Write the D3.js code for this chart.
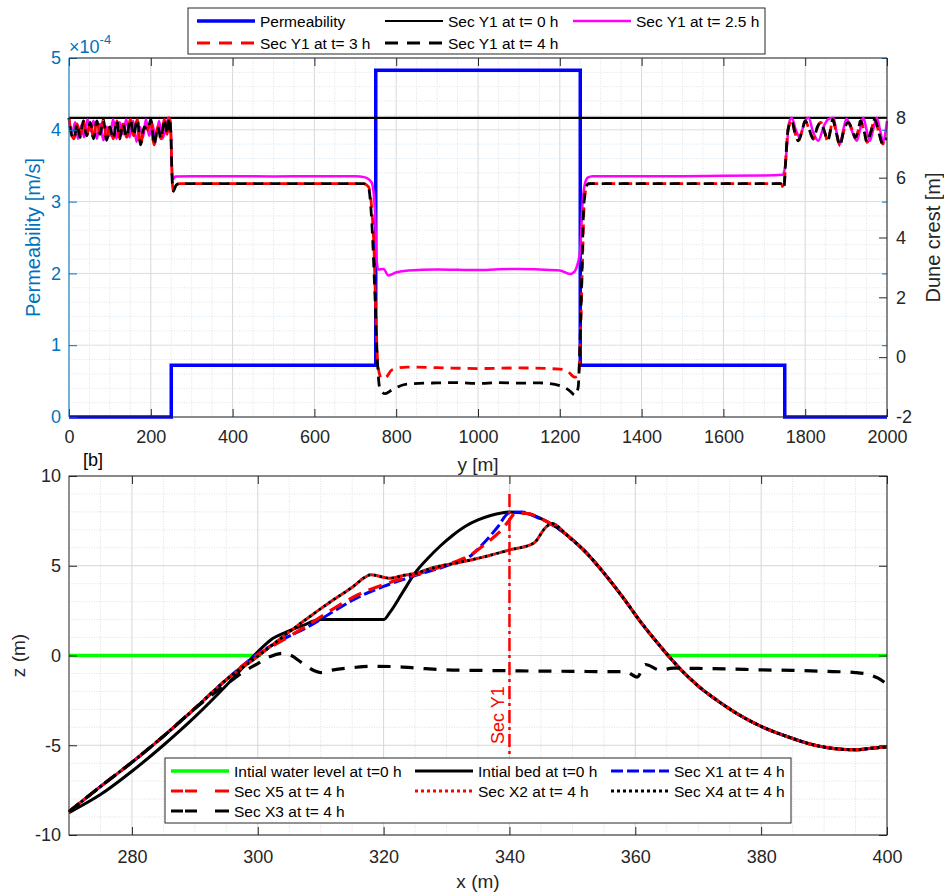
<!DOCTYPE html>
<html>
<head>
<meta charset="utf-8">
<script src="https://cdn.jsdelivr.net/npm/d3@7"></script>
<style>
body { margin: 0; background: #fff; }
svg text { font-family: "Liberation Sans", Arial, Helvetica, sans-serif; }
</style>
</head>
<body>
<div id="chart"></div>
<script>
var svgWidth = 944;
var svgHeight = 893;

// ---------- panel [a]: permeability and dune crest along y ----------
var permY = [0, 250, 250, 750, 750, 1250, 1250, 1750, 1750, 2000];
var permK = [0, 0, 0.72, 0.72, 4.83, 4.83, 0.72, 0.72, 0, 0];   // x 1e-4 m/s

var crestT0 = [[0, 8], [2000, 8]];

var crestT25 = [[0,7.95],[8,7.5],[15,7.85],[22,7.3],[30,7.75],[37,7.35],[45,7.95],[53,7.55],[60,7.9],[68,7.3],
  [76,7.8],[84,7.25],[92,7.7],[100,7.4],[108,7.95],[116,7.3],[124,7.85],[132,7.45],[140,7.95],[148,7.35],
  [157,7.9],[165,7.2],[173,7.7],[181,7.35],[188,7.95],[196,7.4],[204,7.8],[212,7.25],[220,7.9],[228,7.3],
  [236,7.6],[243,8.0],[248,7.9],[251,6.5],[254,5.95],[260,6.04],[300,6.05],[400,6.05],[500,6.04],[600,6.05],
  [700,6.05],[724,6.01],[740,5.84],[748,4.9],[752,3.3],[756,2.93],[769,2.95],[781,2.73],[801,2.84],[830,2.9],
  [900,2.93],[950,2.92],[1000,2.91],[1050,2.94],[1100,2.95],[1150,2.93],[1200,2.9],[1225,2.78],[1236,2.86],
  [1241,3.0],[1250,3.6],[1255,5.0],[1260,5.7],[1268,6.0],[1280,6.05],[1400,6.05],[1500,6.05],[1600,6.06],
  [1700,6.07],[1745,6.1],[1750,6.3],[1755,7.0],[1760,7.8],[1767,8.0],[1777,7.6],[1787,7.34],[1797,7.8],
  [1808,8.0],[1820,7.5],[1832,7.23],[1845,7.7],[1856,7.95],[1869,8.0],[1877,7.5],[1885,7.12],[1893,7.6],
  [1901,7.97],[1913,7.6],[1926,7.23],[1934,7.6],[1942,8.0],[1950,7.6],[1958,7.23],[1966,7.6],[1975,8.0],
  [1983,7.6],[1991,7.18],[1996,7.5],[2000,7.9]];

// t = 3 h and t = 4 h coincide outside the central reach
var crestOscLeft = [[0,8.0],[5,7.5],[12,7.3],[20,7.8],[27,7.35],[35,7.9],[43,7.4],[52,7.85],[60,7.3],[68,7.9],
  [76,7.45],[84,7.95],[92,7.25],[100,7.7],[108,7.3],[117,7.9],[124,7.3],[132,7.8],[141,7.35],[150,7.95],
  [158,7.4],[167,7.95],[175,7.1],[184,7.7],[193,7.6],[200,7.95],[208,7.1],[217,7.7],[225,7.3],[233,7.95],
  [240,7.45],[245,8.0],[249,7.5],[252,6.0],[255,5.55],[262,5.75],[270,5.8],[400,5.8],[600,5.8],[720,5.8]];
var crestOscRight = [[1400,5.8],[1600,5.8],[1740,5.8],[1748,5.65],[1752,6.5],[1758,7.6],[1767,7.9],[1775,7.5],
  [1783,7.23],[1793,7.6],[1800,7.9],[1810,7.6],[1820,7.29],[1830,7.7],[1838,7.85],[1848,7.5],[1855,7.23],
  [1862,7.6],[1867,7.95],[1876,7.5],[1885,7.07],[1893,7.5],[1905,7.85],[1915,7.6],[1922,7.34],[1930,7.6],
  [1935,7.9],[1945,7.5],[1951,7.18],[1960,7.5],[1970,7.95],[1980,7.5],[1990,7.12],[1995,7.3],[2000,7.3]];
var crestT3Mid = [[732,5.7],[740,5.0],[746,3.5],[750,1.5],[754,0.0],[758,-0.5],[765,-0.72],[777,-0.65],
  [789,-0.43],[826,-0.33],[900,-0.35],[1000,-0.38],[1100,-0.36],[1200,-0.4],[1217,-0.45],[1237,-0.67],
  [1246,-0.6],[1250,0.5],[1255,3.0],[1260,5.2],[1266,5.72],[1275,5.8]];
var crestT4Mid = [[732,5.68],[740,4.6],[748,2.1],[754,-0.1],[760,-1.05],[773,-1.22],[789,-1.1],[826,-0.9],
  [900,-0.86],[950,-0.85],[1000,-0.88],[1050,-0.85],[1100,-0.87],[1150,-0.86],[1200,-0.95],[1222,-1.1],
  [1238,-1.27],[1245,-1.0],[1249,0.3],[1254,2.8],[1258,4.9],[1263,5.6],[1270,5.8]];
var crestT3 = crestOscLeft.concat(crestT3Mid, crestOscRight);
var crestT4 = crestOscLeft.concat(crestT4Mid, crestOscRight);

var crestTicks = [-2, 0, 2, 4, 6, 8];

// ---------- panel [b]: cross-shore profiles ----------
var waterX = [270, 300.5, 330, 365, 400];
var waterZ = [0, 0, NaN, 0, 0];

var bedTail = [[346,7.45],[349,6.75],[352,5.8],[355,4.6],[358,3.25],[361,1.8],[364,0.5],[367,-0.7],[370,-1.7],
  [373,-2.5],[376,-3.2],[380,-3.95],[384,-4.5],[388,-4.95],[392,-5.2],[395,-5.25],[398,-5.15],[400,-5.1]];
var bedInit = [[270,-8.75],[275,-7.75],[280,-6.45],[285,-5.0],[290,-3.42],[295,-1.67],[300,0.2],[302,0.85],
  [304.5,1.3],[307,1.65],[310,2.0],[320,2.0],[321,2.4],[323,3.5],[325,4.6],[327,5.4],[329,6.1],[331,6.7],
  [333,7.2],[335,7.55],[337,7.8],[340,8.0],[343,7.9]].concat(bedTail);

var sectLow = [[270,-8.7],[275,-7.3],[280,-5.95],[285,-4.5],[290,-2.95],[295,-1.35]];
var secX1 = sectLow.concat([[300,0.1],[304,0.9],[308,1.6],[312,2.45],[316,3.25],[320,3.85],[325,4.45],
  [330,5.0],[334,5.6],[336,6.3],[338,7.1],[340,7.95],[342,8.0],[344,7.75]], bedTail);
var secX5 = sectLow.concat([[300,0.05],[304,0.85],[308,1.7],[312,2.6],[316,3.4],[320,3.95],[325,4.5],
  [330,5.05],[334,5.65],[336.5,6.3],[339,7.1],[340,7.55],[341,7.95],[343,7.9]], bedTail);
var secX2 = sectLow.concat([[300,-0.05],[304,1.05],[308,2.1],[312,3.1],[315,3.8],[317,4.35],[318,4.5],
  [319.5,4.4],[321,4.3],[323,4.45],[325.3,4.6],[327.4,4.85],[332.7,5.23],[336,5.5],[340,5.88],[343.8,6.25],
  [345.9,7.18],[346.8,7.35],[348,7.1]], bedTail.filter(d => d[0] > 348));
var secX4 = secX2;
var secX3 = [[270,-8.7],[275,-7.3],[280,-5.95],[285,-4.5],[290,-2.95],[295,-1.6],[298,-0.85],[300,-0.45],
  [302,-0.05],[304,0.12],[305,0.05],[307,-0.4],[309,-0.85],[310,-0.95],[312,-0.8],[315,-0.68],[318,-0.6],
  [322,-0.62],[326,-0.72],[330,-0.8],[335,-0.83],[340,-0.85],[345,-0.87],[350,-0.88],[355,-0.9],[358.5,-0.9],
  [360.3,-1.2],[361.6,-0.5],[364,-0.82],[366,-0.7],[370,-0.72],[375,-0.75],[380,-0.8],[385,-0.83],
  [390,-0.88],[395,-0.95],[397,-1.05],[398.5,-1.25],[400,-1.6]];
var secY1X = 340;
var secY1Z = [9, -9];

var axisGrey = "#262626";
var axisBlue = "#0072BD";

var svg = d3.select("#chart")
  .append("svg")
    .attr("width", svgWidth)
    .attr("height", svgHeight)
    .style("display", "block");
svg.append("rect").attr("width", svgWidth).attr("height", svgHeight).attr("fill", "#fff");

// ===== top panel =====
var boxA = {left: 69, right: 887, top: 58, bottom: 417};
var x = d3.scaleLinear().domain([0, 2000]).range([boxA.left, boxA.right]);
var yL = d3.scaleLinear().domain([0, 5]).range([boxA.bottom, boxA.top]);
var yR = d3.scaleLinear().domain([-2, 10]).range([boxA.bottom, boxA.top]);

var gTop = svg.append("g");
var gridT = gTop.append("g");
x.ticks(40).forEach(v => {
  var major = v % 200 === 0;
  gridT.append("line").attr("x1", x(v)).attr("x2", x(v)).attr("y1", boxA.top).attr("y2", boxA.bottom)
    .attr("stroke", major ? "#d8d8d8" : "#e2e2e2").attr("stroke-width", 1)
    .attr("stroke-dasharray", major ? null : "1,1.5");
});
yL.ticks(25).forEach(v => {
  var major = Math.abs(v - Math.round(v)) < 1e-6;
  gridT.append("line").attr("x1", boxA.left).attr("x2", boxA.right).attr("y1", yL(v)).attr("y2", yL(v))
    .attr("stroke", major ? "#cfe0ee" : "#d7e6f2").attr("stroke-width", 1)
    .attr("stroke-dasharray", major ? null : "1,1.5");
});

var permLine = d3.line().x((d, i) => x(permY[i])).y(d => yL(d));
gTop.append("path").datum(permK).attr("d", permLine)
  .attr("fill", "none").attr("stroke", "#0000ff").attr("stroke-width", 3.5);

var crestLine = d3.line().x(d => x(d[0])).y(d => yR(d[1])).curve(d3.curveMonotoneX);
gTop.append("path").datum(crestT0).attr("d", crestLine)
  .attr("fill", "none").attr("stroke", "#000").attr("stroke-width", 2.2);
gTop.append("path").datum(crestT25).attr("d", crestLine)
  .attr("fill", "none").attr("stroke", "#ff00ff").attr("stroke-width", 2.5);
gTop.append("path").datum(crestT3).attr("d", crestLine)
  .attr("fill", "none").attr("stroke", "#ff0000").attr("stroke-width", 2.8)
  .attr("stroke-dasharray", "10,7");
gTop.append("path").datum(crestT4).attr("d", crestLine)
  .attr("fill", "none").attr("stroke", "#000").attr("stroke-width", 2.8)
  .attr("stroke-dasharray", "10,7").attr("stroke-dashoffset", 8.5);

function styleAxis(g, color, size) {
  g.select(".domain").remove();
  g.selectAll(".tick line").attr("stroke", color);
  g.selectAll(".tick text").attr("fill", color).attr("font-size", size)
    .attr("font-family", "'Liberation Sans', Arial, sans-serif");
}

gTop.append("g").attr("transform", `translate(0,${boxA.bottom})`)
  .call(d3.axisBottom(x).ticks(10).tickSize(-8).tickPadding(13).tickFormat(d3.format("d")))
  .call(g => styleAxis(g, axisGrey, 18));
gTop.append("g").attr("transform", `translate(0,${boxA.top})`)
  .call(d3.axisTop(x).ticks(10).tickSize(-8).tickFormat(""))
  .call(g => styleAxis(g, axisGrey, 18));
gTop.append("g").attr("transform", `translate(${boxA.left},0)`)
  .call(d3.axisLeft(yL).ticks(5).tickSize(-8).tickPadding(8).tickFormat(d => String(d)))
  .call(g => styleAxis(g, axisBlue, 18));
gTop.append("g").attr("transform", `translate(${boxA.right},0)`)
  .call(d3.axisRight(yL).ticks(5).tickSize(-5).tickFormat(""))
  .call(g => styleAxis(g, axisBlue, 18));
gTop.append("g").attr("transform", `translate(${boxA.right},0)`)
  .call(d3.axisRight(yR).tickValues(crestTicks).tickSize(-8).tickPadding(9).tickFormat(d => String(d)))
  .call(g => styleAxis(g, axisGrey, 18));

gTop.append("line").attr("x1", boxA.left).attr("x2", boxA.right).attr("y1", boxA.top).attr("y2", boxA.top)
  .attr("stroke", axisGrey);
gTop.append("line").attr("x1", boxA.left).attr("x2", boxA.right).attr("y1", boxA.bottom).attr("y2", boxA.bottom)
  .attr("stroke", axisGrey);
gTop.append("line").attr("x1", boxA.left).attr("x2", boxA.left).attr("y1", boxA.top).attr("y2", boxA.bottom)
  .attr("stroke", axisBlue);
gTop.append("line").attr("x1", boxA.right).attr("x2", boxA.right).attr("y1", boxA.top).attr("y2", boxA.bottom)
  .attr("stroke", axisGrey);

var expo = gTop.append("text").attr("x", 69).attr("y", 53).attr("fill", axisBlue).attr("font-size", 18);
expo.append("tspan").text("\u00d710");
expo.append("tspan").attr("dy", -9).attr("font-size", 13).text("-4");

gTop.append("text")
  .attr("transform", `translate(40,${(boxA.top + boxA.bottom) / 2}) rotate(-90)`)
  .attr("text-anchor", "middle").attr("fill", axisBlue).attr("font-size", 20)
  .text("Permeability [m/s]");
gTop.append("text")
  .attr("transform", `translate(940,${(boxA.top + boxA.bottom) / 2}) rotate(-90)`)
  .attr("text-anchor", "middle").attr("fill", axisGrey).attr("font-size", 20)
  .text("Dune crest [m]");
gTop.append("text").attr("x", (boxA.left + boxA.right) / 2).attr("y", 471)
  .attr("text-anchor", "middle").attr("fill", axisGrey).attr("font-size", 19).text("y [m]");

// legend top
var legTop = gTop.append("g");
legTop.append("rect").attr("x", 188).attr("y", 8).attr("width", 577).attr("height", 46)
  .attr("fill", "#fff").attr("stroke", axisGrey).attr("stroke-width", 1);
var legTopItems = [
  {label: "Permeability", color: "#0000ff", w: 3.5, dash: null, cx: 197, cy: 21},
  {label: "Sec Y1 at t= 0 h", color: "#000", w: 2.2, dash: null, cx: 385, cy: 21},
  {label: "Sec Y1 at t= 2.5 h", color: "#ff00ff", w: 2.5, dash: null, cx: 573, cy: 21},
  {label: "Sec Y1 at t= 3 h", color: "#ff0000", w: 2.8, dash: "13,9", cx: 197, cy: 43},
  {label: "Sec Y1 at t= 4 h", color: "#000", w: 2.8, dash: "13,9", cx: 385, cy: 43}
];
legTopItems.forEach(it => {
  legTop.append("line").attr("x1", it.cx).attr("x2", it.cx + 58).attr("y1", it.cy).attr("y2", it.cy)
    .attr("stroke", it.color).attr("stroke-width", it.w).attr("stroke-dasharray", it.dash);
  legTop.append("text").attr("x", it.cx + 63).attr("y", it.cy).attr("dy", "0.36em")
    .attr("font-size", 15.5).attr("fill", "#000").text(it.label);
});

// ===== bottom panel =====
var boxB = {left: 69, right: 887, top: 476, bottom: 835};
var bx = d3.scaleLinear().domain([270, 400]).range([boxB.left, boxB.right]);
var bz = d3.scaleLinear().domain([-10, 10]).range([boxB.bottom, boxB.top]);

var gBot = svg.append("g");
var gridB = gBot.append("g");
bx.ticks(26).forEach(v => {
  var major = v % 20 === 0;
  gridB.append("line").attr("x1", bx(v)).attr("x2", bx(v)).attr("y1", boxB.top).attr("y2", boxB.bottom)
    .attr("stroke", major ? "#d6d6d6" : "#e0e0e0").attr("stroke-dasharray", major ? null : "1,1.5");
});
bz.ticks(20).forEach(v => {
  var major = v % 5 === 0;
  gridB.append("line").attr("x1", boxB.left).attr("x2", boxB.right).attr("y1", bz(v)).attr("y2", bz(v))
    .attr("stroke", major ? "#d6d6d6" : "#e0e0e0").attr("stroke-dasharray", major ? null : "1,1.5");
});

var waterLine = d3.line().defined(d => !isNaN(d)).x((d, i) => bx(waterX[i])).y(d => bz(d));
var profLine = d3.line().x(d => bx(d[0])).y(d => bz(d[1])).curve(d3.curveMonotoneX);

var profiles = [
  {data: secX1, color: "#0000ff", w: 3, dash: "12,4", off: 0},
  {data: secX5, color: "#ff0000", w: 3.2, dash: "14,8", off: 0},
  {data: secX2, color: "#ff0000", w: 3, dash: "3,3", off: 0},
  {data: secX4, color: "#000", w: 3, dash: "3,3", off: 3},
  {data: secX3, color: "#000", w: 3.2, dash: "13,10", off: 0}
];

gBot.append("path").datum(waterZ).attr("d", waterLine)
  .attr("fill", "none").attr("stroke", "#00ff00").attr("stroke-width", 3.5);
gBot.append("path").datum(bedInit).attr("d", profLine)
  .attr("fill", "none").attr("stroke", "#000").attr("stroke-width", 3);
profiles.forEach(p => {
  gBot.append("path").datum(p.data).attr("d", profLine)
    .attr("fill", "none").attr("stroke", p.color).attr("stroke-width", p.w)
    .attr("stroke-dasharray", p.dash).attr("stroke-dashoffset", p.off);
});

gBot.append("line").attr("x1", bx(secY1X)).attr("x2", bx(secY1X))
  .attr("y1", bz(secY1Z[0])).attr("y2", bz(secY1Z[1]))
  .attr("stroke", "#ff0000").attr("stroke-width", 2.5).attr("stroke-dasharray", "13,4,3,4");
gBot.append("text")
  .attr("transform", `translate(${bx(secY1X) - 5},744) rotate(-90)`)
  .attr("fill", "#ff0000").attr("font-size", 18).text("Sec Y1");

gBot.append("g").attr("transform", `translate(0,${boxB.bottom})`)
  .call(d3.axisBottom(bx).ticks(7).tickSize(-8).tickPadding(15).tickFormat(d3.format("d")))
  .call(g => styleAxis(g, axisGrey, 18));
gBot.append("g").attr("transform", `translate(0,${boxB.top})`)
  .call(d3.axisTop(bx).ticks(7).tickSize(-8).tickFormat(""))
  .call(g => styleAxis(g, axisGrey, 18));
gBot.append("g").attr("transform", `translate(${boxB.left},0)`)
  .call(d3.axisLeft(bz).ticks(4).tickSize(-8).tickPadding(8).tickFormat(d => String(d)))
  .call(g => styleAxis(g, axisGrey, 18));
gBot.append("g").attr("transform", `translate(${boxB.right},0)`)
  .call(d3.axisRight(bz).ticks(4).tickSize(-8).tickFormat(""))
  .call(g => styleAxis(g, axisGrey, 18));
gBot.append("rect").attr("x", boxB.left).attr("y", boxB.top)
  .attr("width", boxB.right - boxB.left).attr("height", boxB.bottom - boxB.top)
  .attr("fill", "none").attr("stroke", axisGrey).attr("stroke-width", 1);

gBot.append("text").attr("x", 83).attr("y", 466).attr("fill", "#000").attr("font-size", 18).text("[b]");
gBot.append("text").attr("x", (boxB.left + boxB.right) / 2).attr("y", 888)
  .attr("text-anchor", "middle").attr("fill", axisGrey).attr("font-size", 19).text("x (m)");
gBot.append("text")
  .attr("transform", `translate(25,${(boxB.top + boxB.bottom) / 2}) rotate(-90)`)
  .attr("text-anchor", "middle").attr("fill", axisGrey).attr("font-size", 19).text("z (m)");

// legend bottom
var legBot = gBot.append("g");
legBot.append("rect").attr("x", 165).attr("y", 758).attr("width", 626).attr("height", 65)
  .attr("fill", "#fff").attr("stroke", axisGrey).attr("stroke-width", 1);
var legBotItems = [
  {label: "Intial water level at t=0 h", color: "#00ff00", w: 3.5, dash: null, cx: 171, cy: 771},
  {label: "Intial bed at t=0 h", color: "#000", w: 3, dash: null, cx: 415, cy: 771},
  {label: "Sec X1 at t= 4 h", color: "#0000ff", w: 3, dash: "12,4", cx: 611, cy: 771},
  {label: "Sec X5 at t= 4 h", color: "#ff0000", w: 3.2, dash: "12,2,12,18,16", cx: 171, cy: 791},
  {label: "Sec X2 at t= 4 h", color: "#ff0000", w: 3, dash: "3,3", cx: 415, cy: 791},
  {label: "Sec X4 at t= 4 h", color: "#000", w: 3, dash: "3,3", cx: 611, cy: 791},
  {label: "Sec X3 at t= 4 h", color: "#000", w: 3.2, dash: "12,2,12,18,16", cx: 171, cy: 811}
];
legBotItems.forEach(it => {
  legBot.append("line").attr("x1", it.cx).attr("x2", it.cx + 58).attr("y1", it.cy).attr("y2", it.cy)
    .attr("stroke", it.color).attr("stroke-width", it.w).attr("stroke-dasharray", it.dash);
  legBot.append("text").attr("x", it.cx + 63).attr("y", it.cy).attr("dy", "0.36em")
    .attr("font-size", 15.5).attr("fill", "#000").text(it.label);
});
</script>
</body>
</html>
